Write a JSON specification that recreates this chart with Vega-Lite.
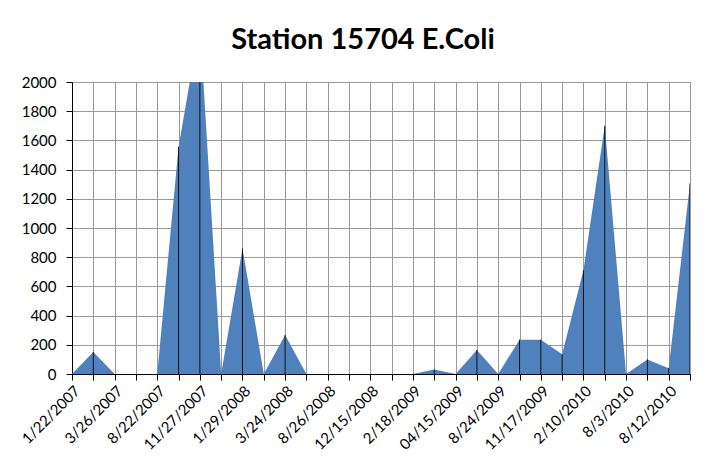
{
  "$schema": "https://vega.github.io/schema/vega-lite/v6.json",
  "width": 618,
  "height": 292,
  "autosize": {"type": "none"},
  "padding": {"left": 72, "top": 82, "right": 29, "bottom": 102},
  "background": "white",
  "title": {
    "text": "Station 15704 E.Coli",
    "font": "Lato",
    "fontSize": 29,
    "fontWeight": "bold",
    "color": "#000000",
    "anchor": "middle",
    "offset": 20,
    "dx": -18
  },
  "config": {
    "view": {"stroke": "#999999", "strokeWidth": 1},
    "axis": {
      "labelFont": "Lato",
      "labelFontSize": 15,
      "labelColor": "#000000",
      "domainColor": "#000000",
      "tickColor": "#000000",
      "gridColor": "#999999",
      "gridWidth": 1,
      "tickSize": 6,
      "title": null
    }
  },
  "data": {
    "values": [
      {"i": 0, "ecoli": 0},
      {"i": 1, "ecoli": 150},
      {"i": 2, "ecoli": 0},
      {"i": 3, "ecoli": 0},
      {"i": 4, "ecoli": 0},
      {"i": 5, "ecoli": 1555},
      {"i": 6, "ecoli": 2400},
      {"i": 7, "ecoli": 0},
      {"i": 8, "ecoli": 860},
      {"i": 9, "ecoli": 0},
      {"i": 10, "ecoli": 267},
      {"i": 11, "ecoli": 0},
      {"i": 12, "ecoli": 0},
      {"i": 13, "ecoli": 0},
      {"i": 14, "ecoli": 0},
      {"i": 15, "ecoli": 0},
      {"i": 16, "ecoli": 0},
      {"i": 17, "ecoli": 30},
      {"i": 18, "ecoli": 0},
      {"i": 19, "ecoli": 165},
      {"i": 20, "ecoli": 0},
      {"i": 21, "ecoli": 235},
      {"i": 22, "ecoli": 235},
      {"i": 23, "ecoli": 135},
      {"i": 24, "ecoli": 710},
      {"i": 25, "ecoli": 1700},
      {"i": 26, "ecoli": 0},
      {"i": 27, "ecoli": 100},
      {"i": 28, "ecoli": 40},
      {"i": 29, "ecoli": 1305}
    ]
  },
  "encoding": {
    "x": {
      "field": "i",
      "type": "quantitative",
      "scale": {"domain": [0, 29], "nice": false, "zero": false},
      "axis": {
        "values": [0,1,2,3,4,5,6,7,8,9,10,11,12,13,14,15,16,17,18,19,20,21,22,23,24,25,26,27,28,29],
        "grid": true,
        "labelAngle": -45,
        "labelAlign": "right",
        "labelBaseline": "top",
        "labelPadding": 3,
        "labelOverlap": false,
        "labelExpr": "datum.value % 2 == 0 ? ['1/22/2007','3/26/2007','8/22/2007','11/27/2007','1/29/2008','3/24/2008','8/26/2008','12/15/2008','2/18/2009','04/15/2009','8/24/2009','11/17/2009','2/10/2010','8/3/2010','8/12/2010'][datum.value / 2] : ''"
      }
    },
    "y": {
      "field": "ecoli",
      "type": "quantitative",
      "scale": {"domain": [0, 2000], "nice": false},
      "axis": {
        "values": [0,200,400,600,800,1000,1200,1400,1600,1800,2000],
        "format": "d",
        "grid": true,
        "labelOverlap": false,
        "labelPadding": 10
      }
    }
  },
  "layer": [
    {
      "mark": {"type": "area", "color": "#4F81BD", "clip": true, "opacity": 1}
    },
    {
      "mark": {"type": "rule", "color": "#111111", "strokeWidth": 1, "clip": true},
      "encoding": {
        "y2": {"datum": 0}
      }
    }
  ]
}
